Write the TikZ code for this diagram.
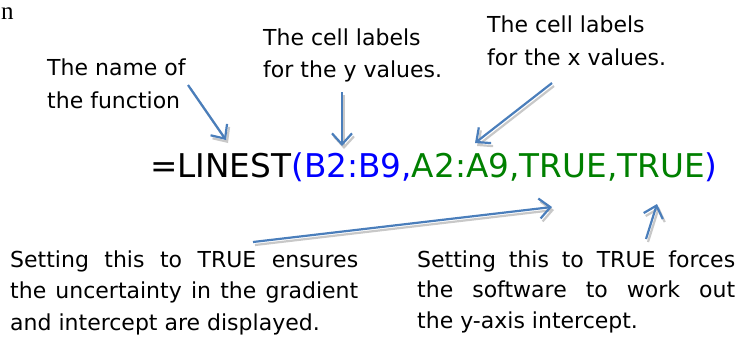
\documentclass[tikz,border=0pt]{standalone}
\usepackage{fontspec}
\setmainfont{DejaVu Sans}
\newfontfamily\serifn{Liberation Serif}
\usetikzlibrary{arrows.meta}
\definecolor{arrblue}{RGB}{74,126,187}
\definecolor{shadowgray}{RGB}{200,200,200}
\definecolor{fblue}{RGB}{0,0,255}
\definecolor{fgreen}{RGB}{0,128,0}
\tikzset{
  note/.style={inner sep=0pt, anchor=base west},
  callout/.style={draw=arrblue, line width=2.2pt, -{Straight Barb[length=11pt,width=20pt,line width=2.2pt]}},
  calloutshadow/.style={draw=shadowgray, line width=2.2pt, -{Straight Barb[length=11pt,width=20pt,line width=2.2pt]}},
}
\newcommand{\shadowarrow}[2]{%
  \draw[calloutshadow, transform canvas={shift={(2pt,-3pt)}}] (#1) -- (#2);
  \draw[callout] (#1) -- (#2);}
\begin{document}
\begin{tikzpicture}[x=1pt,y=-1pt]
\useasboundingbox (0,0) rectangle (746,338);
% stray letter
\node[inner sep=0pt, anchor=base west, font=\serifn\fontsize{25}{25}\selectfont] (n) at (1,19) {n};
% top notes
\node[note] (fname) at (47,75) {\parbox[t]{170pt}{\fontsize{22}{33}\selectfont The name of\\the function}};
\node[note] (ycells) at (263,45) {\parbox[t]{210pt}{\fontsize{22}{32}\selectfont The cell labels\\for the y values.}};
\node[note] (xcells) at (487,32) {\parbox[t]{230pt}{\fontsize{22}{33}\selectfont The cell labels\\for the x values.}};
% formula
\node[inner sep=0pt, anchor=base west, font=\fontsize{32.7}{36}\selectfont] (formula) at (150,177)
  {=LINEST{\color{fblue}(B2:B9,}{\color{fgreen}A2:A9,TRUE,TRUE}{\color{fblue})}};
% bottom notes
\node[note] (errnote) at (10,267) {\parbox[t]{348pt}{\fontsize{22}{31.5}\selectfont
  \makebox[348pt][s]{Setting this to TRUE ensures}\\
  \makebox[348pt][s]{the uncertainty in the gradient}\\
  and intercept are displayed.}};
\node[note] (intnote) at (417,267) {\parbox[t]{318pt}{\fontsize{22}{30.5}\selectfont
  \makebox[318pt][s]{Setting this to TRUE forces}\\
  \makebox[318pt][s]{the software to work out}\\
  the y-axis intercept.}};
% arrow end points
\coordinate (a1s) at (188,85);  \coordinate (a1e) at (226,140);
\coordinate (a2s) at (342,92);  \coordinate (a2e) at (342,146);
\coordinate (a3s) at (552,83);  \coordinate (a3e) at (475,143);
\coordinate (a4s) at (253,242); \coordinate (a4e) at (552,207);
\coordinate (a5s) at (646,239); \coordinate (a5e) at (657,204);
\shadowarrow{a1s}{a1e}
\shadowarrow{a2s}{a2e}
\shadowarrow{a3s}{a3e}
\shadowarrow{a4s}{a4e}
\shadowarrow{a5s}{a5e}
\end{tikzpicture}
\end{document}
